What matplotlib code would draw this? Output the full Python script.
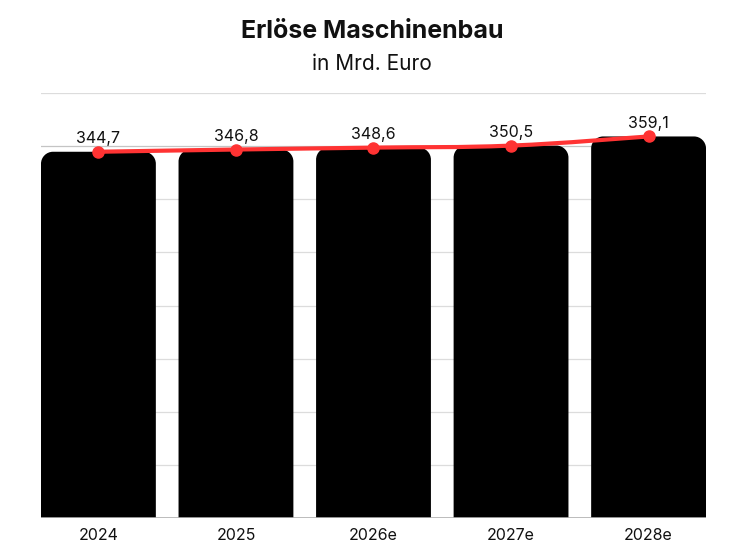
import numpy as np
import matplotlib
matplotlib.use("Agg")
from matplotlib import pyplot as plt
from matplotlib.path import Path
from matplotlib.patches import PathPatch

plt.rcParams['font.family'] = ['Inter', 'DejaVu Sans']

years = ["2024", "2025", "2026e", "2027e", "2028e"]
values = [344.7, 346.8, 348.6, 350.5, 359.1]
labels = ["344,7", "346,8", "348,6", "350,5", "359,1"]

fig = plt.figure(figsize=(7.48, 5.53), dpi=100)
ax = fig.add_axes([41 / 748, 1 - 518 / 553, 665 / 748, (518 - 93) / 553])

x = np.arange(len(years))
width = 0.835
ax.set_xlim(-0.5 * width, len(years) - 1 + 0.5 * width)
ax.set_ylim(0, 400)

# px per data unit, for rounded corners
px_x = 665 / (len(years) - 1 + width)
px_y = 425 / 400
r = 12
rx, ry = r / px_x, r / px_y


def rounded_bar(xc, h):
    x0, x1 = xc - width / 2, xc + width / 2
    k = 0.55
    verts = [(x0, 0), (x0, h - ry),
             (x0, h - ry + k * ry), (x0 + rx - k * rx, h), (x0 + rx, h),
             (x1 - rx, h),
             (x1 - rx + k * rx, h), (x1, h - ry + k * ry), (x1, h - ry),
             (x1, 0), (x0, 0)]
    codes = [Path.MOVETO, Path.LINETO,
             Path.CURVE4, Path.CURVE4, Path.CURVE4,
             Path.LINETO,
             Path.CURVE4, Path.CURVE4, Path.CURVE4,
             Path.LINETO, Path.CLOSEPOLY]
    return PathPatch(Path(verts, codes), facecolor="black", edgecolor="none", zorder=2)


for xi, v in zip(x, values):
    ax.add_patch(rounded_bar(xi, v))

for gy in range(50, 401, 50):
    ax.axhline(gy, color="#dcdcdc" if gy != 350 else "#c4c4c4", lw=0.9, zorder=1)
ax.axhline(0, color="#b0b0b0", lw=1.2, zorder=3)

# smoothed line (catmull-rom -> bezier) through the data points
pts = np.column_stack([x, values]).astype(float)
verts = [tuple(pts[0])]
codes = [Path.MOVETO]
t = 0.2
for i in range(len(pts) - 1):
    p0 = pts[max(i - 1, 0)]
    p1, p2 = pts[i], pts[i + 1]
    p3 = pts[min(i + 2, len(pts) - 1)]
    c1 = p1 + (p2 - p0) * t
    c2 = p2 - (p3 - p1) * t
    verts += [tuple(c1), tuple(c2), tuple(p2)]
    codes += [Path.CURVE4] * 3
ax.add_patch(PathPatch(Path(verts, codes), facecolor="none", edgecolor="#ff3333",
                       lw=3, zorder=4, capstyle="round"))
ax.plot(x, values, ls="none", color="#ff3333", marker="o", ms=8, zorder=4)

for xi, v, lab in zip(x, values, labels):
    ax.annotate(lab, (xi, v), xytext=(0, 4), textcoords="offset points",
                ha="center", va="bottom", fontsize=11.5, color="#111111", zorder=5)

ax.set_xticks(x)
ax.set_xticklabels(years, fontsize=11.5, color="#111111")
ax.tick_params(axis="x", length=0, pad=7)
ax.set_yticks([])
for s in ax.spines.values():
    s.set_visible(False)

fig.text(372 / 748, 1 - 31 / 553, "Erlöse Maschinenbau", ha="center", va="center",
         fontsize=18, fontweight="bold", color="#111111")
fig.text(372 / 748, 1 - 64 / 553, "in Mrd. Euro", ha="center", va="center",
         fontsize=15, color="#111111")

fig.savefig("out.png", dpi=100)
